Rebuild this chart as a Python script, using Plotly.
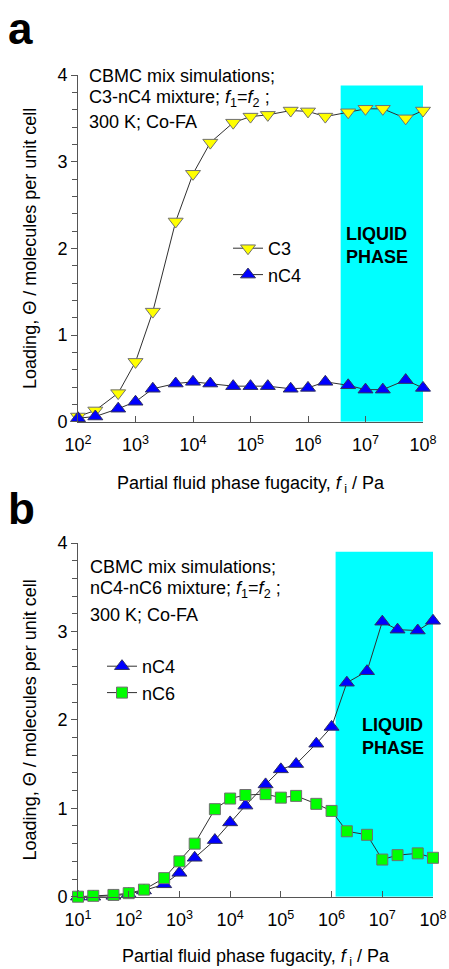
import plotly.graph_objects as go

# ---------------- data ----------------
# panel a : C3-nC4 mixture
fa = [1e2, 2e2, 5e2, 1e3, 2e3, 5e3, 1e4, 2e4, 5e4, 1e5, 2e5, 5e5, 1e6, 2e6, 5e6, 1e7, 2e7, 5e7, 1e8]
c3_a = [0.06, 0.13, 0.33, 0.69, 1.27, 2.31, 2.86, 3.22, 3.45, 3.52, 3.54, 3.59, 3.58, 3.52, 3.57, 3.61, 3.61, 3.50, 3.59]
nc4_a = [0.04, 0.06, 0.15, 0.23, 0.38, 0.44, 0.46, 0.44, 0.41, 0.41, 0.41, 0.38, 0.39, 0.46, 0.42, 0.37, 0.37, 0.48, 0.39]
liquid_a = [3.7e6, 1e8]
liquid_top_a = 3.88

# panel b : nC4-nC6 mixture
fb = [1e1, 2e1, 5e1, 1e2, 2e2, 5e2, 1e3, 2e3, 5e3, 1e4, 2e4, 5e4, 1e5, 2e5, 5e5, 1e6, 2e6, 5e6, 1e7, 2e7, 5e7, 1e8]
nc4_b = [0.00, 0.00, 0.01, 0.03, 0.07, 0.14, 0.27, 0.44, 0.64, 0.84, 1.03, 1.27, 1.44, 1.50, 1.73, 1.92, 2.42, 2.55, 3.11, 3.02, 3.01, 3.12]
nc6_b = [0.00, 0.01, 0.02, 0.04, 0.08, 0.21, 0.40, 0.60, 0.99, 1.11, 1.15, 1.16, 1.12, 1.14, 1.05, 0.97, 0.74, 0.70, 0.42, 0.47, 0.49, 0.44]
liquid_b = [1.2e6, 1e8]
liquid_top_b = 3.9

xtick_vals_a = [1e2, 1e3, 1e4, 1e5, 1e6, 1e7, 1e8]
xtick_text_a = ["10<sup>2</sup>", "10<sup>3</sup>", "10<sup>4</sup>", "10<sup>5</sup>",
                "10<sup>6</sup>", "10<sup>7</sup>", "10<sup>8</sup>"]
xtick_vals_b = [1e1, 1e2, 1e3, 1e4, 1e5, 1e6, 1e7, 1e8]
xtick_text_b = ["10<sup>1</sup>"] + xtick_text_a
ytick_vals = [0, 1, 2, 3, 4]

# ---------------- style ----------------
W, H = 449, 969
FONT = "Liberation Sans, Arial, Helvetica, sans-serif"
AX = "#555555"
LINE = "#303030"
CYAN = "#00FFFF"
YEL = "#FFFF00"
BLUE = "#0000FF"
GRN = "#00FF00"


def px(xp):
    return xp / W


def py(yp):
    return 1 - yp / H


fig = go.Figure()

# liquid phase bands
for xs, top, xa, ya in [(liquid_a, liquid_top_a, "x", "y"), (liquid_b, liquid_top_b, "x2", "y2")]:
    fig.add_trace(go.Scatter(
        x=[xs[0], xs[1], xs[1], xs[0], xs[0]], y=[0, 0, top, top, 0],
        fill="toself", fillcolor=CYAN, mode="none", showlegend=False,
        hoverinfo="skip", xaxis=xa, yaxis=ya))

# panel a series
fig.add_trace(go.Scatter(x=fa, y=c3_a, name="C3", mode="lines+markers",
                         line=dict(color=LINE, width=1),
                         marker=dict(symbol="triangle-down", size=13, color=YEL,
                                     line=dict(color="#707070", width=1)),
                         cliponaxis=False, xaxis="x", yaxis="y", legend="legend"))
fig.add_trace(go.Scatter(x=fa, y=nc4_a, name="nC4", mode="lines+markers",
                         line=dict(color=LINE, width=1),
                         marker=dict(symbol="triangle-up", size=13, color=BLUE,
                                     line=dict(color="#303060", width=1)),
                         cliponaxis=False, xaxis="x", yaxis="y", legend="legend"))

# panel b series
fig.add_trace(go.Scatter(x=fb, y=nc4_b, name="nC4", mode="lines+markers",
                         line=dict(color=LINE, width=1),
                         marker=dict(symbol="triangle-up", size=13, color=BLUE,
                                     line=dict(color="#303060", width=1)),
                         cliponaxis=False, xaxis="x2", yaxis="y2", legend="legend2"))
fig.add_trace(go.Scatter(x=fb, y=nc6_b, name="nC6", mode="lines+markers",
                         line=dict(color=LINE, width=1),
                         marker=dict(symbol="square", size=11, color=GRN,
                                     line=dict(color="#707070", width=1)),
                         cliponaxis=False, xaxis="x2", yaxis="y2", legend="legend2"))

xtitle = "Partial fluid phase fugacity, <i>f</i><sub> i</sub> / Pa"
ytitle = "Loading, Θ / molecules per unit cell"

xcommon = dict(type="log", ticks="inside", ticklen=6, tickcolor=AX, showline=True,
               linecolor=AX, linewidth=1, showgrid=False, zeroline=False,
               tickfont=dict(size=18, color="black"), automargin=False,
               ticklabelstandoff=7,
               title=dict(text=xtitle, font=dict(size=18, color="black"), standoff=22))
ycommon = dict(range=[0, 4], tickvals=ytick_vals, ticks="outside", ticklen=6,
               tickcolor=AX, showline=True, linecolor=AX, linewidth=1, showgrid=False,
               zeroline=False, tickfont=dict(size=18, color="black"), automargin=False,
               minor=dict(dtick=0.2, ticks="outside", ticklen=5, tickcolor=AX, showgrid=False),
               title=dict(text=ytitle, font=dict(size=18, color="black"), standoff=16))

fig.update_layout(
    width=W, height=H, margin=dict(l=0, r=0, t=0, b=0),
    paper_bgcolor="white", plot_bgcolor="white", template="none",
    font=dict(family=FONT, size=18, color="black"),
    xaxis=dict(domain=[px(78), px(423)], range=[2, 8], anchor="y",
               tickvals=xtick_vals_a, ticktext=xtick_text_a, **xcommon),
    yaxis=dict(domain=[py(421.7), py(75)], anchor="x", **ycommon),
    xaxis2=dict(domain=[px(78), px(433)], range=[1, 8], anchor="y2",
                tickvals=xtick_vals_b, ticktext=xtick_text_b, **xcommon),
    yaxis2=dict(domain=[py(896.7), py(543)], anchor="x2", **ycommon),
    legend=dict(x=px(228), y=py(230), xanchor="left", yanchor="top",
                bgcolor="rgba(0,0,0,0)", font=dict(size=18), tracegroupgap=0),
    legend2=dict(x=px(102), y=py(648), xanchor="left", yanchor="top",
                 bgcolor="rgba(0,0,0,0)", font=dict(size=18), tracegroupgap=0),
    showlegend=True,
)

ann = []
# panel letters
ann.append(dict(text="<b>a</b>", x=px(6), y=py(28), xref="paper", yref="paper",
                xanchor="left", yanchor="middle", showarrow=False, font=dict(size=44)))
ann.append(dict(text="<b>b</b>", x=px(6), y=py(508), xref="paper", yref="paper",
                xanchor="left", yanchor="middle", showarrow=False, font=dict(size=44)))
# info text
info_a = ["CBMC mix simulations;", "C3-nC4 mixture; <i>f</i><sub>1</sub>=<i>f</i><sub>2</sub> ;", "300 K; Co-FA"]
info_b = ["CBMC mix simulations;", "nC4-nC6 mixture; <i>f</i><sub>1</sub>=<i>f</i><sub>2</sub> ;", "300 K; Co-FA"]
for t, yy in zip(info_a, [76, 98, 122]):
    ann.append(dict(text=t, x=px(87), y=py(yy), xref="paper", yref="paper",
                    xanchor="left", yanchor="middle", showarrow=False, font=dict(size=18)))
for t, yy in zip(info_b, [567, 589, 615]):
    ann.append(dict(text=t, x=px(88), y=py(yy), xref="paper", yref="paper",
                    xanchor="left", yanchor="middle", showarrow=False, font=dict(size=18)))
# liquid phase labels
for cx, cy in [(377, 245), (392.5, 736)]:
    ann.append(dict(text="<b>LIQUID<br>PHASE</b>", x=px(cx), y=py(cy), xref="paper", yref="paper",
                    xanchor="center", yanchor="middle", align="left", showarrow=False,
                    font=dict(size=18)))
fig.update_layout(annotations=ann)

fig.write_html("out.html")
